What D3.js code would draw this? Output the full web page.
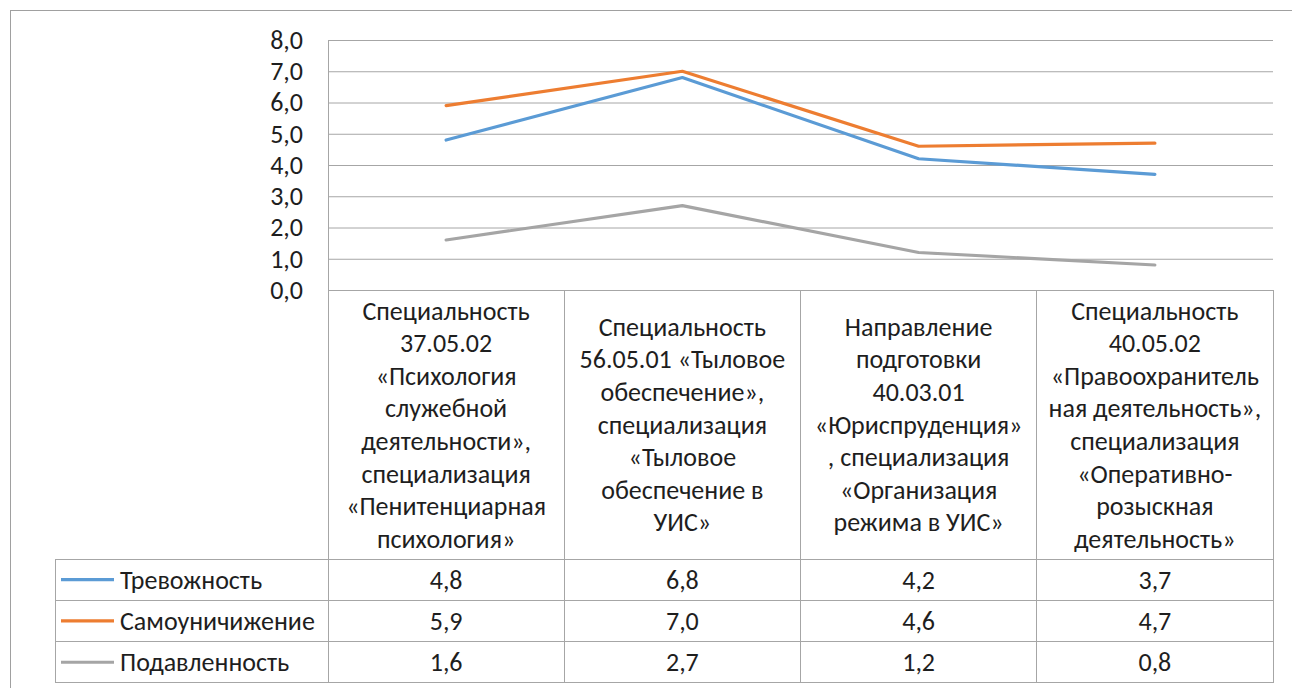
<!DOCTYPE html>
<html>
<head>
<meta charset="utf-8">
<script src="https://cdn.jsdelivr.net/npm/d3@7"></script>
<style>
  body { margin: 0; background: #fff; }
  svg text { font-family: Carlito, Calibri, Roboto, sans-serif; fill: #1e1e1e; }
</style>
</head>
<body>
<div id="chart"></div>
<script>
// category headers, already broken into lines as in the picture
const categories = [
  ["Специальность", "37.05.02", "«Психология", "служебной", "деятельности»,", "специализация", "«Пенитенциарная", "психология»"],
  ["Специальность", "56.05.01 «Тыловое", "обеспечение»,", "специализация", "«Тыловое", "обеспечение в", "УИС»"],
  ["Направление", "подготовки", "40.03.01", "«Юриспруденция»", ", специализация", "«Организация", "режима в УИС»"],
  ["Специальность", "40.05.02", "«Правоохранитель", "ная деятельность»,", "специализация", "«Оперативно-", "розыскная", "деятельность»"]
];
const seriesNames = ["Тревожность", "Самоуничижение", "Подавленность"];
const trevozhnost = [4.8, 6.8, 4.2, 3.7];
const samounichizhenie = [5.9, 7.0, 4.6, 4.7];
const podavlennost = [1.6, 2.7, 1.2, 0.8];
const yTicks = [0, 1, 2, 3, 4, 5, 6, 7, 8];

const series = [
  { name: seriesNames[0], values: trevozhnost, color: "#5b9bd5" },
  { name: seriesNames[1], values: samounichizhenie, color: "#ed7d31" },
  { name: seriesNames[2], values: podavlennost, color: "#a5a5a5" }
];

const width = 1292, height = 688;
const plot = { left: 328, right: 1273, top: 40, bottom: 290 };
const tableLeft = 55;
const headerBottom = 559;
const rowH = 41.3;
const fontSize = 26;
const gridColor = "#a6a6a6";

const svg = d3.select("#chart").append("svg")
  .attr("width", width).attr("height", height);

// chart border
svg.append("rect")
  .attr("x", 10.5).attr("y", 10.5)
  .attr("width", 1300).attr("height", 700)
  .attr("fill", "none").attr("stroke", "#a0a0a0");

const x = d3.scaleBand()
  .domain(d3.range(categories.length))
  .range([plot.left, plot.right]);

const y = d3.scaleLinear()
  .domain([0, 8])
  .range([plot.bottom, plot.top]);

// gridlines + y labels
const yAxis = svg.append("g")
  .attr("transform", `translate(${plot.left},0)`)
  .call(d3.axisLeft(y)
    .tickValues(yTicks)
    .tickSize(-(plot.right - plot.left))
    .tickPadding(25)
    .tickFormat(d => d3.format(".1f")(d).replace(".", ",")));
yAxis.select(".domain").remove();
yAxis.selectAll(".tick line").attr("stroke", gridColor);
yAxis.selectAll(".tick text")
  .style("font-size", fontSize + "px")
  .attr("fill", "#1e1e1e");

// table lines
const rowsBottom = headerBottom + rowH * series.length;
const g = svg.append("g").attr("stroke", gridColor).attr("shape-rendering", "crispEdges");
g.append("line").attr("x1", plot.left).attr("x2", plot.left)
  .attr("y1", plot.top).attr("y2", rowsBottom);
d3.range(1, categories.length + 1).forEach(i => {
  const xx = plot.left + x.bandwidth() * i;
  g.append("line").attr("x1", xx).attr("x2", xx)
    .attr("y1", plot.bottom).attr("y2", rowsBottom);
});
g.append("line").attr("x1", tableLeft).attr("x2", tableLeft)
  .attr("y1", headerBottom).attr("y2", rowsBottom);
d3.range(series.length + 1).forEach(i => {
  const yy = headerBottom + rowH * i;
  g.append("line").attr("x1", tableLeft).attr("x2", plot.right)
    .attr("y1", yy).attr("y2", yy);
});

// header text
const lineH = 32.6;
categories.forEach((lines, i) => {
  const cx = x(i) + x.bandwidth() / 2;
  const cy = (plot.bottom + headerBottom) / 2;
  const y0 = cy - (lines.length - 1) * lineH / 2;
  svg.append("text")
    .attr("text-anchor", "middle")
    .style("font-size", fontSize + "px")
    .selectAll("tspan").data(lines).join("tspan")
    .attr("x", cx)
    .attr("y", (d, k) => y0 + k * lineH)
    .attr("dy", "0.35em")
    .text(d => d);
});

// lines
const line = d3.line()
  .x((d, i) => x(i) + x.bandwidth() / 2)
  .y(d => y(d));
svg.selectAll(".series").data(series).join("path")
  .attr("class", "series")
  .attr("d", d => line(d.values))
  .attr("fill", "none")
  .attr("stroke", d => d.color)
  .attr("stroke-width", 3.2)
  .attr("stroke-linejoin", "round")
  .attr("stroke-linecap", "round");

// data rows
series.forEach((s, r) => {
  const cy = headerBottom + rowH * r + rowH / 2;
  svg.append("line")
    .attr("x1", 61).attr("x2", 114)
    .attr("y1", cy).attr("y2", cy)
    .attr("stroke", s.color).attr("stroke-width", 3.2);
  svg.append("text")
    .attr("x", 120).attr("y", cy).attr("dy", "0.35em")
    .style("font-size", fontSize + "px")
    .text(s.name);
  s.values.forEach((v, i) => {
    svg.append("text")
      .attr("x", x(i) + x.bandwidth() / 2)
      .attr("y", cy).attr("dy", "0.35em")
      .attr("text-anchor", "middle")
      .style("font-size", fontSize + "px")
      .text(d3.format(".1f")(v).replace(".", ","));
  });
});
</script>
</body>
</html>
